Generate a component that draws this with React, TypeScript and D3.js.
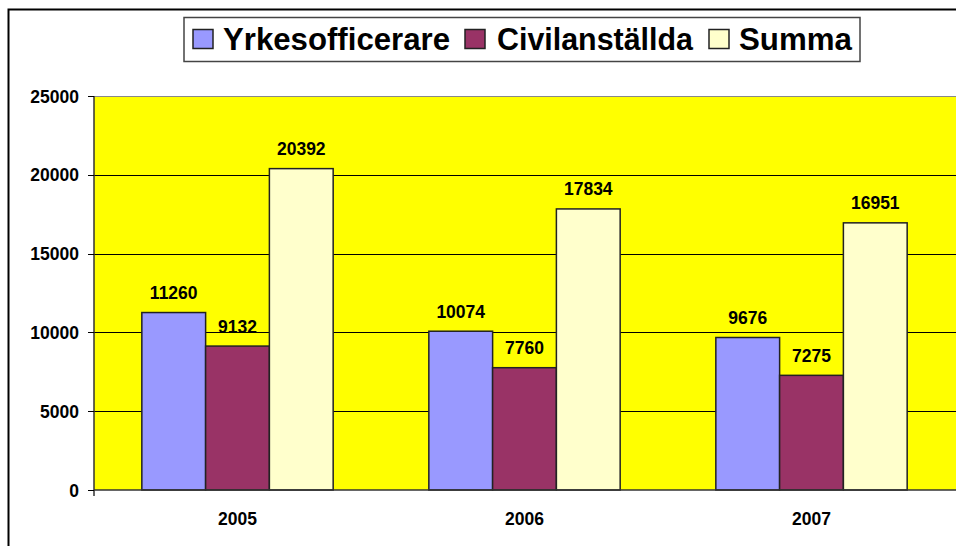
import React, { useEffect, useRef } from 'react';
import * as d3 from 'd3';

const years = ['2005', '2006', '2007'];
const seriesNames = ['Yrkesofficerare', 'Civilanställda', 'Summa'];
const yrkesofficerare = [11260, 10074, 9676];
const civilanstallda = [9132, 7760, 7275];
const summa = [20392, 17834, 16951];
const yTicks = [0, 5000, 10000, 15000, 20000, 25000];
const colors = ['#9999ff', '#993366', '#ffffcc'];

const W = 956;
const H = 546;

const App: React.FC = () => {
  const ref = useRef<SVGSVGElement | null>(null);

  useEffect(() => {
    const svg = d3.select(ref.current);
    svg.selectAll('*').remove();

    const font = 'Arial, "Liberation Sans", sans-serif';
    const left = 94, top = 96, right = 955, bottom = 490;

    // outer chart border
    svg.append('rect')
      .attr('x', 8.5).attr('y', 9.5)
      .attr('width', W + 20).attr('height', H + 20)
      .attr('fill', 'white').attr('stroke', '#000').attr('stroke-width', 2);

    const x = d3.scaleBand().domain(years).range([left, right]).paddingInner(0).paddingOuter(0);
    const y = d3.scaleLinear().domain([0, 25000]).range([bottom, top]);
    const inner = d3.scaleBand().domain(seriesNames).range([0, x.bandwidth()]).paddingInner(0).paddingOuter(0.75);

    // plot area
    svg.append('rect')
      .attr('x', left).attr('y', top)
      .attr('width', right - left + 10).attr('height', bottom - top)
      .attr('fill', '#ffff00');
    svg.append('line')
      .attr('x1', left).attr('x2', W).attr('y1', top + 0.5).attr('y2', top + 0.5)
      .attr('stroke', '#888').attr('stroke-width', 1);

    // gridlines
    svg.selectAll('line.grid')
      .data(yTicks.filter(t => t > 0 && t < 25000))
      .enter().append('line')
      .attr('class', 'grid')
      .attr('x1', left).attr('x2', W)
      .attr('y1', d => Math.round(y(d)) + 0.5).attr('y2', d => Math.round(y(d)) + 0.5)
      .attr('stroke', '#000').attr('stroke-width', 1);

    const seriesData = [yrkesofficerare, civilanstallda, summa];

    years.forEach((yr, i) => {
      seriesNames.forEach((s, j) => {
        const v = seriesData[j][i];
        const bx = (x(yr) as number) + (inner(s) as number);
        svg.append('rect')
          .attr('x', bx).attr('y', y(v))
          .attr('width', inner.bandwidth()).attr('height', bottom - y(v))
          .attr('fill', colors[j]).attr('stroke', '#222').attr('stroke-width', 1.5);
        svg.append('text')
          .attr('x', bx + inner.bandwidth() / 2)
          .attr('y', y(v) - 13.5)
          .attr('text-anchor', 'middle')
          .attr('font-family', font).attr('font-weight', 'bold').attr('font-size', 17.5)
          .text(v);
      });
    });

    // axes
    svg.append('line')
      .attr('x1', left).attr('x2', left).attr('y1', top).attr('y2', bottom + 6)
      .attr('stroke', '#333').attr('stroke-width', 1.5);
    svg.append('line')
      .attr('x1', left).attr('x2', W).attr('y1', bottom).attr('y2', bottom)
      .attr('stroke', '#333').attr('stroke-width', 1.5);

    yTicks.forEach(t => {
      svg.append('line')
        .attr('x1', left - 6).attr('x2', left)
        .attr('y1', Math.round(y(t)) + 0.5).attr('y2', Math.round(y(t)) + 0.5)
        .attr('stroke', '#000');
      svg.append('text')
        .attr('x', left - 15).attr('y', y(t) + 6.5)
        .attr('text-anchor', 'end')
        .attr('font-family', font).attr('font-weight', 'bold').attr('font-size', 17.5)
        .text(t);
    });

    years.forEach(yr => {
      svg.append('text')
        .attr('x', (x(yr) as number) + x.bandwidth() / 2)
        .attr('y', 525)
        .attr('text-anchor', 'middle')
        .attr('font-family', font).attr('font-weight', 'bold').attr('font-size', 17.5)
        .text(yr);
    });

    // legend
    svg.append('rect')
      .attr('x', 184).attr('y', 17.5).attr('width', 676).attr('height', 44)
      .attr('fill', 'white').attr('stroke', '#444').attr('stroke-width', 1.5);
    const legendX = [193, 465, 709];
    const legendTextX = [223, 497, 739];
    const legendTextW = [227, 196, 113];
    seriesNames.forEach((s, j) => {
      svg.append('rect')
        .attr('x', legendX[j]).attr('y', 29.5).attr('width', 20).attr('height', 19)
        .attr('fill', colors[j]).attr('stroke', '#222').attr('stroke-width', 1.5);
      svg.append('text')
        .attr('x', legendTextX[j]).attr('y', 50)
        .attr('font-family', font).attr('font-weight', 'bold').attr('font-size', 31)
        .attr('textLength', legendTextW[j])
        .attr('lengthAdjust', 'spacingAndGlyphs')
        .text(s);
    });
  }, []);

  return (
    <svg ref={ref} width={W} height={H}
      style={{ position: 'absolute', left: 0, top: 0, display: 'block' }} />
  );
};

export default App;
